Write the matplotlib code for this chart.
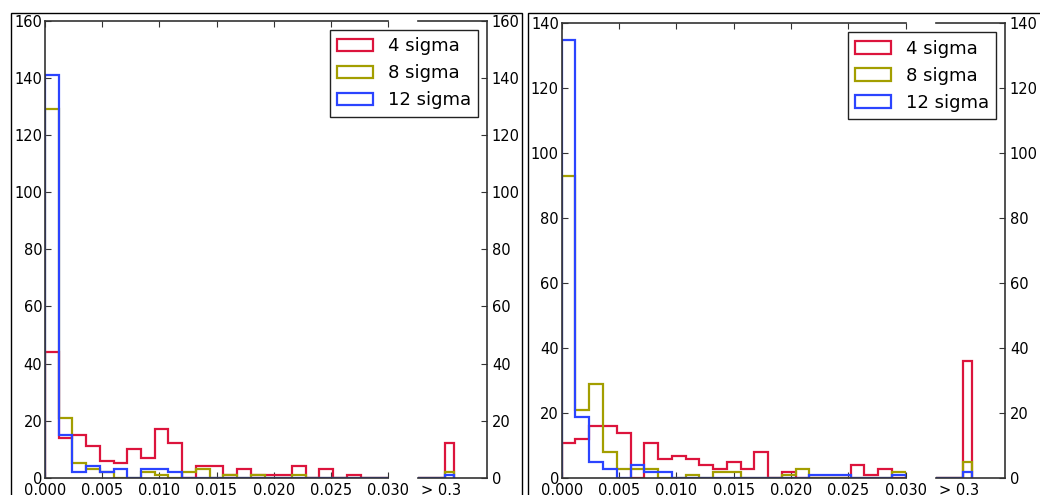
import numpy as np
import matplotlib
matplotlib.use('Agg')
import matplotlib.pyplot as plt
from matplotlib.patches import Rectangle
from matplotlib.ticker import FormatStrFormatter

# histogram counts, 25 bins between 0 and 0.03
labels = ['4 sigma', '8 sigma', '12 sigma']
colors = ['#dc143c', '#a39e00', '#2b44ff']
edges = np.linspace(0, 0.03, 26)

left_4 = [44, 14, 15, 11, 6, 5, 10, 7, 17, 12, 0, 4, 4, 1, 3, 1, 1, 1, 4, 0, 3, 0, 1, 0, 0]
left_8 = [129, 21, 5, 3, 2, 0, 0, 2, 1, 0, 2, 3, 0, 1, 0, 1, 0, 0, 1, 0, 0, 0, 0, 0, 0]
left_12 = [141, 15, 2, 4, 2, 3, 0, 3, 3, 2, 0, 0, 0, 0, 0, 0, 0, 0, 0, 0, 0, 0, 0, 0, 0]
left_over = [12, 2, 1]

right_4 = [11, 12, 16, 16, 14, 0, 11, 6, 7, 6, 4, 3, 5, 3, 8, 0, 2, 0, 0, 0, 0, 4, 1, 3, 0]
right_8 = [93, 21, 29, 8, 3, 3, 3, 0, 0, 1, 0, 2, 2, 0, 0, 0, 1, 3, 0, 0, 0, 0, 0, 0, 2]
right_12 = [135, 19, 5, 3, 0, 4, 2, 2, 0, 0, 0, 0, 0, 0, 0, 0, 0, 0, 1, 1, 1, 0, 0, 0, 1]
right_over = [36, 5, 2]

over_edges = np.arange(5)
over_label = '> 0.3'

W, H = 1040, 495
fig = plt.figure(figsize=(W / 100, H / 100), dpi=100)
plt.rcParams['font.family'] = 'DejaVu Sans'
spine_c = '#333333'


def panel(x_main, x_main_end, x_small, x_small_end, y_bot, y_top, series, over, ymax):
    b = 1 - y_bot / H
    h = (y_bot - y_top) / H
    ax = fig.add_axes([x_main / W, b, (x_main_end - x_main) / W, h])
    ax2 = fig.add_axes([x_small / W, b, (x_small_end - x_small) / W, h])

    centers = (edges[:-1] + edges[1:]) / 2
    oc = (over_edges[:-1] + over_edges[1:]) / 2
    handles = []
    for counts, n_over, c in zip(series, over, colors):
        _, _, p = ax.hist(centers, bins=edges, weights=counts, histtype='step',
                          color=c, lw=1.6)
        handles.append(p[0])
        ax2.hist(oc, bins=over_edges, weights=[0, 0, 0, n_over], histtype='step',
                 color=c, lw=1.6)

    ax.set_xlim(0, 0.03)
    ax.set_ylim(0, ymax)
    ax.set_xticks(np.arange(0, 0.0301, 0.005))
    ax.xaxis.set_major_formatter(FormatStrFormatter('%.3f'))
    ax.set_yticks(np.arange(0, ymax + 1, 20))
    ax.spines['right'].set_visible(False)
    ax.tick_params(direction='in', top=True, right=False, length=4,
                   labelsize=10.5, color=spine_c)
    ax.tick_params(axis='y', pad=2)

    ax2.set_xlim(0, 7.67)
    ax2.set_ylim(0, ymax)
    ax2.set_xticks([2.6])
    ax2.set_xticklabels([over_label])
    ax2.set_yticks(np.arange(0, ymax + 1, 20))
    ax2.spines['left'].set_visible(False)
    ax2.yaxis.tick_right()
    ax2.tick_params(direction='in', left=False, right=True, length=4,
                    labelsize=10.5, color=spine_c)
    ax2.tick_params(axis='x', length=0)

    for a in (ax, ax2):
        for s in a.spines.values():
            s.set_color(spine_c)
            s.set_linewidth(1.2)

    leg = ax2.legend(handles, labels, loc='upper right', fancybox=False,
                     framealpha=1, fontsize=13, borderaxespad=0.5)
    leg.get_frame().set_edgecolor('#222222')
    leg.get_frame().set_linewidth(1.0)


panel(45, 388, 418, 487, 477.7, 21, [left_4, left_8, left_12], left_over, 160)
panel(561.7, 905.7, 936, 1005, 478.3, 23.3, [right_4, right_8, right_12], right_over, 140)

# the frames round each panel
top = 1 - 13 / H
fig.add_artist(Rectangle((10.5 / W, -0.1), (522 - 10.5) / W, top + 0.1, fill=False,
                         transform=fig.transFigure, lw=1, ec='black'))
fig.add_artist(Rectangle((527.5 / W, -0.1), 0.6, top + 0.1, fill=False,
                         transform=fig.transFigure, lw=1, ec='black'))

fig.savefig('out.png', dpi=100)
